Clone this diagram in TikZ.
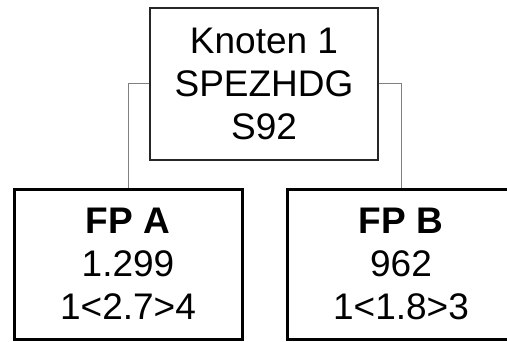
\documentclass[tikz,border=0pt]{standalone}
\usepackage{fontspec}
\setmainfont{Liberation Sans}
\usetikzlibrary{positioning}

\begin{document}
\begin{tikzpicture}[x=1pt, y=1pt,
  kn/.style={rectangle, draw=black!85, line width=1.2pt, minimum width=228pt, minimum height=152pt, inner sep=0pt, font=\fontsize{37}{43}\selectfont, align=center},
  fp/.style={rectangle, draw=black, line width=3pt, minimum width=228pt, minimum height=150pt, inner sep=0pt, font=\fontsize{37}{43}\selectfont, align=center},
  con/.style={draw=black!50, line width=1pt}
]
  \useasboundingbox (0,0) rectangle (507,341);
  \clip (0,0) rectangle (507,341);
  \node[kn] (k1) at (264, 257) {Knoten 1\\SPEZHDG\\S92};
  \node[fp] (fpa) at (128, 77) {\textbf{FP A}\\1.299\\1<2.7>4};
  \node[fp] (fpb) at (401, 77) {\textbf{FP B}\\962\\1<1.8>3};
  \draw[con] (k1.west) -| (fpa.north);
  \draw[con] (k1.east) -| (fpb.north);
\end{tikzpicture}
\end{document}
